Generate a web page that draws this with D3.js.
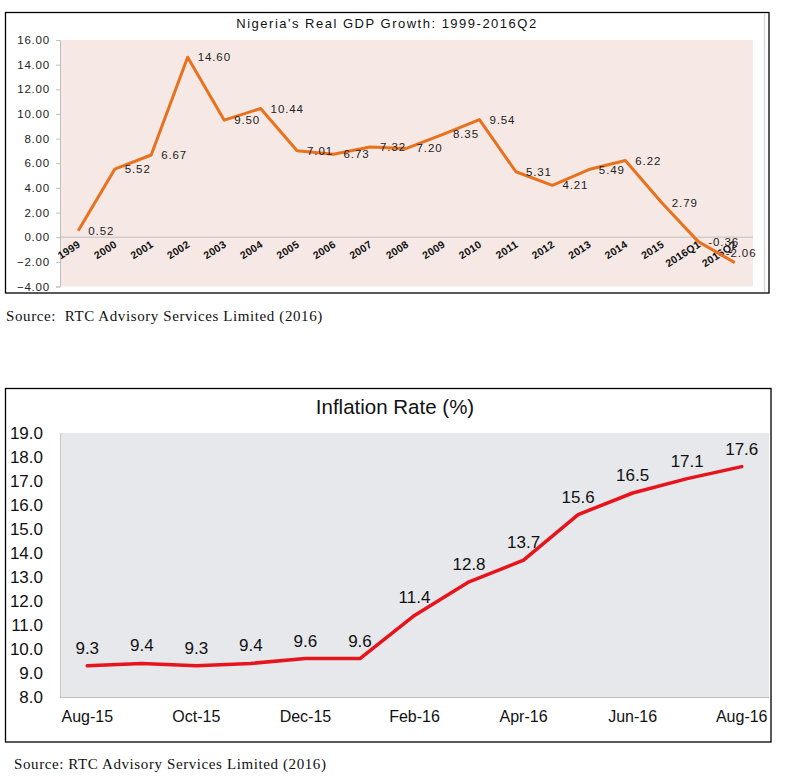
<!DOCTYPE html>
<html><head><meta charset="utf-8">
<script src="https://cdn.jsdelivr.net/npm/d3@7"></script>
<style>body{margin:0;background:#fff}svg{display:block}</style>
</head><body>
<svg id="c" width="800" height="780"></svg>
<script>
// ---- GDP chart data ----
const gdpCategories = ["1999","2000","2001","2002","2003","2004","2005","2006","2007","2008","2009","2010","2011","2012","2013","2014","2015","2016Q1","2016Q2"];
const gdpValues = [0.52,5.52,6.67,14.60,9.50,10.44,7.01,6.73,7.32,7.20,8.35,9.54,5.31,4.21,5.49,6.22,2.79,-0.36,-2.06];
const gdpTicks = [16,14,12,10,8,6,4,2,0,-2,-4];
const gdpTitle = "Nigeria's Real GDP Growth: 1999-2016Q2";

// ---- Inflation chart data ----
const infMonths = ["Aug-15","Sep-15","Oct-15","Nov-15","Dec-15","Jan-16","Feb-16","Mar-16","Apr-16","May-16","Jun-16","Jul-16","Aug-16"];
const infValues = [9.3,9.4,9.3,9.4,9.6,9.6,11.4,12.8,13.7,15.6,16.5,17.1,17.6];
const infTicks = [19,18,17,16,15,14,13,12,11,10,9,8];
const infXLabels = ["Aug-15","Oct-15","Dec-15","Feb-16","Apr-16","Jun-16","Aug-16"];
const infTitle = "Inflation Rate (%)";

const sourceText = "Source:  RTC Advisory Services Limited (2016)";
const sourceText2 = "Source: RTC Advisory Services Limited (2016)";

const svg = d3.select("#c");
const SANS = "Liberation Sans, Arial, sans-serif";
const SERIF = "Liberation Serif, Times New Roman, serif";

// ================= Top chart =================
{
  const g = svg.append("g");
  g.append("rect").attr("x",5.5).attr("y",12.5).attr("width",763.5).attr("height",280.5)
    .attr("fill","#fff").attr("stroke","#000").attr("stroke-width",1.3);
  g.append("line").attr("x1",764.5).attr("x2",764.5).attr("y1",13).attr("y2",292)
    .attr("stroke","#d9d9d9").attr("stroke-width",1.5);

  const L=60, R=753, T=40, B=286.5;
  const x = d3.scaleBand().domain(gdpCategories).range([L,R]);
  const y = d3.scaleLinear().domain([-4,16]).range([B,T]);
  const cx = d => x(d) + x.bandwidth()/2;

  g.append("rect").attr("x",L).attr("y",T).attr("width",R-L).attr("height",B-T).attr("fill","#F6E8E4");

  g.append("text").attr("x",387).attr("y",28).attr("text-anchor","middle")
    .attr("font-family",SANS).attr("font-size",13).attr("letter-spacing",1.5).attr("fill","#111")
    .text(gdpTitle);

  const ya = g.append("g").attr("transform",`translate(${L},0)`)
    .call(d3.axisLeft(y).tickValues(gdpTicks).tickFormat(d3.format(".2f")).tickSize(4).tickPadding(6));
  ya.select(".domain").attr("stroke","#bfbfbf");
  ya.selectAll(".tick line").attr("stroke","#bfbfbf");
  ya.selectAll("text").attr("font-family",SANS).attr("font-size",11.5).attr("letter-spacing",0.8).attr("fill","#222");

  g.append("line").attr("x1",L).attr("x2",R).attr("y1",y(0)).attr("y2",y(0)).attr("stroke","#bfbfbf").attr("stroke-width",1);

  g.selectAll(".xl").data(gdpCategories).join("text")
    .attr("class","xl")
    .attr("transform",d=>`translate(${cx(d)+3},${y(0)+9}) rotate(-33)`)
    .attr("text-anchor","end")
    .attr("font-family",SANS).attr("font-weight","bold")
    .attr("font-size",10.5).attr("letter-spacing",0.3).attr("fill","#111")
    .text(d=>d);

  const line = d3.line().x((d,i)=>cx(gdpCategories[i])).y(d=>y(d));
  g.append("path").datum(gdpValues).attr("d",line).attr("fill","none")
    .attr("stroke","#E8711E").attr("stroke-width",3).attr("stroke-linejoin","round");

  g.selectAll(".dl").data(gdpValues).join("text")
    .attr("class","dl")
    .attr("x",(d,i)=>cx(gdpCategories[i]) + (i===gdpValues.length-1 ? -9 : 10))
    .attr("y",(d,i)=>y(d) + (i===gdpValues.length-1 ? -10 : 0))
    .attr("dy","0.35em")
    .attr("font-family",SANS).attr("font-size",11.5).attr("letter-spacing",0.9).attr("fill","#222")
    .text(d=>d.toFixed(2));

  svg.append("text").attr("x",6).attr("y",321)
    .attr("font-family",SERIF).attr("font-size",15).attr("letter-spacing",0.6).attr("fill","#111")
    .style("white-space","pre")
    .text(sourceText);
}

// ================= Bottom chart =================
{
  const g = svg.append("g");
  g.append("rect").attr("x",5.5).attr("y",388.5).attr("width",765.5).attr("height",353.5)
    .attr("fill","#fff").attr("stroke","#000").attr("stroke-width",1.3);

  const L=60, R=769, T=433, B=697;
  const x = d3.scaleBand().domain(infMonths).range([L,R]);
  const y = d3.scaleLinear().domain([8,19]).range([B,T]);
  const cx = d => x(d) + x.bandwidth()/2;

  g.append("rect").attr("x",L).attr("y",T).attr("width",R-L).attr("height",B-T).attr("fill","#E7E8EC");
  g.append("line").attr("x1",L+0.5).attr("x2",L+0.5).attr("y1",T).attr("y2",B).attr("stroke","#c8c8c8");
  g.append("line").attr("x1",L).attr("x2",R).attr("y1",B+0.5).attr("y2",B+0.5).attr("stroke","#c0c0c0");

  g.append("text").attr("x",395).attr("y",414).attr("text-anchor","middle")
    .attr("font-family",SANS).attr("font-size",20.5).attr("fill","#111")
    .text(infTitle);

  g.selectAll(".yl").data(infTicks).join("text").attr("class","yl")
    .attr("x",43).attr("y",d=>y(d)).attr("dy","0.36em").attr("text-anchor","end")
    .attr("font-family",SANS).attr("font-size",17).attr("fill","#111")
    .text(d=>d.toFixed(1));

  g.selectAll(".xl").data(infXLabels).join("text").attr("class","xl")
    .attr("x",d=>cx(d)).attr("y",722).attr("text-anchor","middle")
    .attr("font-family",SANS).attr("font-size",16).attr("fill","#111")
    .text(d=>d);

  const line = d3.line().x((d,i)=>cx(infMonths[i])).y(d=>y(d));
  g.append("path").datum(infValues).attr("d",line).attr("fill","none")
    .attr("stroke","#E8141B").attr("stroke-width",3.5).attr("stroke-linejoin","round").attr("stroke-linecap","round");

  g.selectAll(".dl").data(infValues).join("text").attr("class","dl")
    .attr("x",(d,i)=>cx(infMonths[i])).attr("y",d=>y(d)-12).attr("text-anchor","middle")
    .attr("font-family",SANS).attr("font-size",17).attr("fill","#111")
    .text(d=>d.toFixed(1));

  svg.append("text").attr("x",14).attr("y",769)
    .attr("font-family",SERIF).attr("font-size",15).attr("letter-spacing",0.6).attr("fill","#111")
    .text(sourceText2);
}
</script>
</body></html>
